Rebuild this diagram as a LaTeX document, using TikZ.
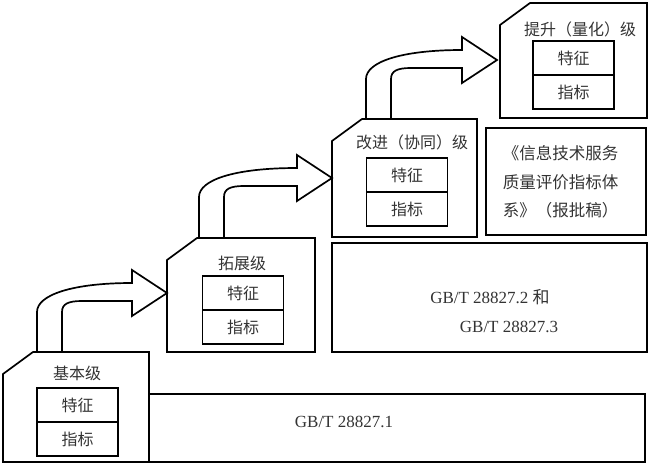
\documentclass[tikz,border=0pt]{standalone}
\usepackage{fontspec}
\setmainfont{Liberation Serif}
\newfontfamily\cjk{Noto Sans CJK SC}
\usetikzlibrary{positioning}

\begin{document}
\begin{tikzpicture}[x=1pt, y=-1pt, line width=1.7pt,
    levelbox/.style={draw, line join=miter},
    blockarrow/.style={draw, line join=miter},
    cell/.style={draw, minimum width=81pt, minimum height=34pt, inner sep=0pt, outer sep=0pt,
        font=\cjk\fontsize{16}{18}\selectfont, text=black!80},
    lvl/.style={inner sep=0pt, font=\cjk\fontsize{16}{18}\selectfont, text=black!80},
    std/.style={inner sep=0pt, font=\fontsize{17}{20}\selectfont, text=black!80}]

    \useasboundingbox (0, 0) rectangle (650, 466);

    % standards
    \draw (149, 394) rectangle (645, 462);
    \draw (332, 243) rectangle (647, 352);
    \draw (486, 128) rectangle (646, 235);

    \node[std] (g1) at (344, 422) {GB/T 28827.1};
    \node[std] (g2) at (490, 297) {GB/T 28827.2 {\cjk 和}};
    \node[std] (g3) at (509, 327) {GB/T 28827.3};
    \node[lvl, align=left, anchor=west, font=\cjk\fontsize{16.5}{28.5}\selectfont] (book) at (502, 182)
        {《信息技术服务\\质量评价指标体\\系》（报批稿）};

    % levels
    \foreach \lx/\ty/\rx/\by in {3/352/149/462, 167/238/315/352, 332/119/477/237, 500/3/647/118}
        \draw[levelbox] (\lx, \by) -- (\lx, \ty + 22) -- (\lx + 30, \ty) -- (\rx, \ty) -- (\rx, \by) -- cycle;

    % arrows
    \foreach \sx/\sb/\tx/\ty in {37/352/167/293, 199/238/332/178, 366/119/497/60}
        \draw[blockarrow] (\sx, \sb) -- (\sx, \ty + 19)
            .. controls (\sx, \ty + 2) and (\sx + 35, \ty - 10) .. (\tx - 35, \ty - 10)
            -- (\tx - 35, \ty - 23) -- (\tx, \ty) -- (\tx - 35, \ty + 23) -- (\tx - 35, \ty + 8)
            -- (\sx + 45, \ty + 8)
            .. controls (\sx + 31, \ty + 8) and (\sx + 25, \ty + 11) .. (\sx + 25, \ty + 19)
            -- (\sx + 25, \sb);

    \node[lvl] (lb1) at (77, 373) {基本级};
    \node[cell] (tz1) at (77.5, 405) {特征};
    \node[cell, below=0pt of tz1] (zb1) {指标};

    \node[lvl] (lb2) at (242, 263) {拓展级};
    \node[cell] (tz2) at (243, 293) {特征};
    \node[cell, below=0pt of tz2] (zb2) {指标};

    \node[lvl] (lb3) at (412, 142) {改进（协同）级};
    \node[cell] (tz3) at (407, 175) {特征};
    \node[cell, below=0pt of tz3] (zb3) {指标};

    \node[lvl] (lb4) at (580, 29) {提升（量化）级};
    \node[cell] (tz4) at (573.5, 58) {特征};
    \node[cell, below=0pt of tz4] (zb4) {指标};

\end{tikzpicture}
\end{document}
